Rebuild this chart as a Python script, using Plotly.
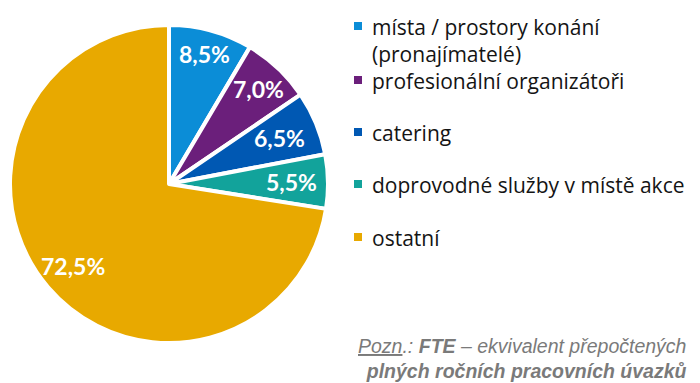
import math
import plotly.graph_objects as go

categories = ["místa / prostory konání<br>(pronajímatelé)", "profesionální organizátoři",
              "catering", "doprovodné služby v místě akce", "ostatní"]
shares = [8.5, 7.0, 6.5, 5.5, 72.5]
colors = ["#0B8DD7", "#6B1F7B", "#0058B3", "#12A39B", "#E8A900"]

W, H = 700, 383
OFF = 8  # page body margin offset of the rendered figure


def px(x, y):
    """screen px -> paper coords"""
    return (x - OFF) / W, 1 - (y - OFF) / H


# pie geometry on screen
CX, CY, R = 169, 184, 159
x0, y1 = px(CX - R, CY - R)
x1, y0 = px(CX + R, CY + R)

fig = go.Figure()
fig.add_trace(go.Pie(
    labels=categories, values=shares, sort=False, direction="clockwise", rotation=0,
    marker=dict(colors=colors, line=dict(color="white", width=4)),
    textinfo="none", domain=dict(x=[x0, x1], y=[y0, y1]),
    showlegend=False, hoverinfo="label+percent",
))

# percentage labels at slice mid-angles
label_r = [0.85, 0.82, 0.75, 0.77, 0.79]
total = sum(shares)
cum = 0
for v, rf in zip(shares, label_r):
    mid = (cum + v / 2) / total * 2 * math.pi
    cum += v
    sx = CX + rf * R * math.sin(mid)
    sy = CY - rf * R * math.cos(mid)
    ax, ay = px(sx, sy)
    fig.add_annotation(xref="paper", yref="paper", x=ax, y=ay, xanchor="center", yanchor="middle",
                       text=f"{v:.1f}%".replace(".", ","), showarrow=False,
                       font=dict(family="Lato", size=23, color="white", weight="bold"))

# manual legend
leg_y = [26, 80, 132, 184, 237]
for lab, col, y in zip(categories, colors, leg_y):
    a0, b1 = px(354, y - 4)
    a1, b0 = px(362, y + 4)
    fig.add_shape(type="rect", xref="paper", yref="paper", x0=a0, x1=a1, y0=b0, y1=b1,
                  fillcolor=col, line=dict(width=0))
    tx, ty = px(370, y - 15)
    fig.add_annotation(xref="paper", yref="paper", x=tx, y=ty,
                       xanchor="left", yanchor="top", text=lab, showarrow=False, align="left",
                       font=dict(family="Open Sans", size=21, color="#141414"))

nx, ny = px(689, 333)
fig.add_annotation(xref="paper", yref="paper", x=nx, y=ny, xanchor="right", yanchor="top",
                   showarrow=False, align="right",
                   text="<i><u>Pozn</u>.: <b>FTE</b> – ekvivalent přepočtených<br><b>plných ročních pracovních úvazků</b></i>",
                   font=dict(family="Liberation Sans", size=19.5, color="#7a7a7a"))

fig.update_layout(width=W, height=H, margin=dict(l=0, r=0, t=0, b=0),
                  paper_bgcolor="white", plot_bgcolor="white", separators=", ")
fig.write_html("out.html")
